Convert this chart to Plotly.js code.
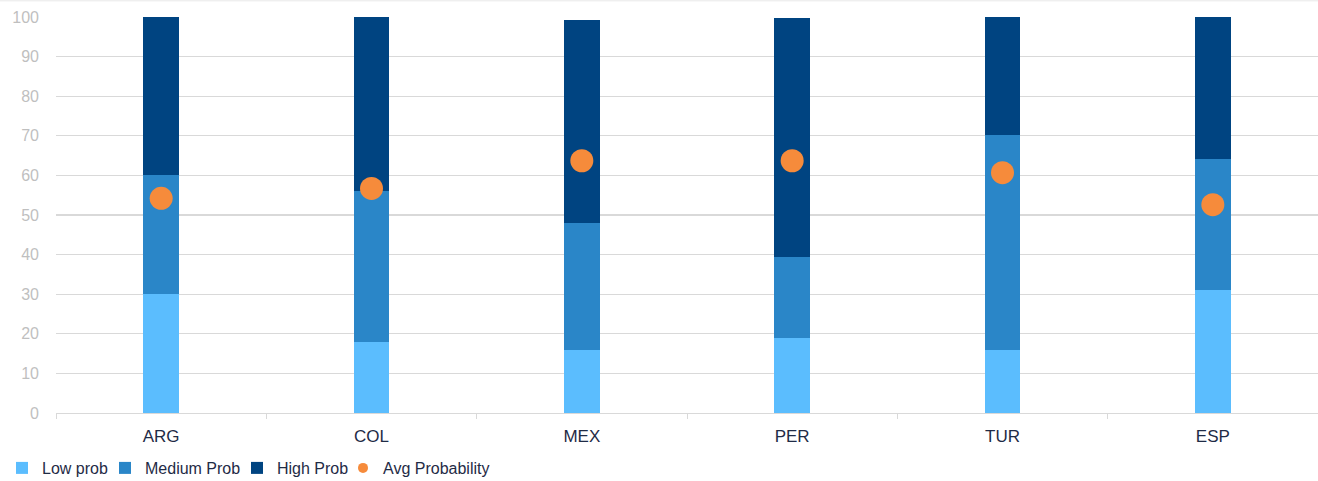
<!DOCTYPE html>
<html>
<head>
<meta charset="utf-8">
<script src="https://cdn.plot.ly/plotly-3.0.1.min.js"></script>
<style>
  html, body { margin: 0; padding: 0; background: #ffffff; }
  #chart { width: 1318px; height: 481px; }
</style>
</head>
<body>
<div id="chart"></div>
<script>
// Countries on the category axis
const countries = ['ARG', 'COL', 'MEX', 'PER', 'TUR', 'ESP'];

// Share of each probability band (stacked, %)
const lowProb    = [30, 18, 16, 19, 16, 31];
const mediumProb = [30, 38, 32, 20.4, 54.2, 33.1];
const highProb   = [40, 44, 51.2, 60.3, 29.8, 35.9];

// Average probability per country (%)
const avgProbability = [54.2, 56.7, 63.7, 63.7, 60.7, 52.6];

const yTicks = [0, 10, 20, 30, 40, 50, 60, 70, 80, 90, 100];

const BAR_WIDTH = 0.17;
const textColor = '#1f2b46';
const avgColor = '#f68b3b';

// Plot area geometry (px)
const W = 1318, H = 481;
const M = { l: 56, r: 0, t: 17, b: 68 };
const plotW = W - M.l - M.r;
const plotH = H - M.t - M.b;

// Each legend entry sits in its own legend box so the row can be spaced tightly
function legendAt(textLeftPx) {
  return {
    orientation: 'h',
    x: (textLeftPx - 40 - M.l) / plotW,
    xanchor: 'left',
    y: -(468 - (H - M.b)) / plotH,
    yanchor: 'middle',
    font: { size: 16, color: textColor, family: 'Liberation Sans, Arial, sans-serif' },
    bgcolor: 'rgba(0,0,0,0)',
    borderwidth: 0
  };
}

const traces = [
  { type: 'bar', name: 'Low prob', x: countries, y: lowProb, legend: 'legend',
    width: BAR_WIDTH, marker: { color: '#5bbdfe' } },
  { type: 'bar', name: 'Medium Prob', x: countries, y: mediumProb, legend: 'legend2',
    width: BAR_WIDTH, marker: { color: '#2a86c8' } },
  { type: 'bar', name: 'High Prob', x: countries, y: highProb, legend: 'legend3',
    width: BAR_WIDTH, marker: { color: '#004481' } },
  { type: 'scatter', mode: 'markers', name: 'Avg Probability', showlegend: false,
    x: countries, y: avgProbability,
    marker: { color: avgColor, size: 23 } },
  // legend key for the average dots, drawn with a smaller symbol
  { type: 'scatter', mode: 'markers', name: 'Avg Probability', legend: 'legend4',
    x: [null], y: [null],
    marker: { color: avgColor, size: 10 } }
];

const layout = {
  width: W,
  height: H,
  margin: Object.assign({ autoexpand: false }, M),
  paper_bgcolor: '#ffffff',
  plot_bgcolor: '#ffffff',
  barmode: 'stack',
  font: { family: 'Liberation Sans, Arial, sans-serif', color: textColor, size: 16 },
  xaxis: {
    type: 'category',
    showgrid: false,
    showline: true,
    linecolor: '#d9d9d9',
    linewidth: 1.3,
    ticks: 'outside',
    tickson: 'boundaries',
    ticklen: 5,
    tickcolor: '#d9d9d9',
    tickfont: { size: 17, color: textColor },
    ticklabelstandoff: 7,
    fixedrange: true
  },
  yaxis: {
    range: [0, 100],
    tickvals: yTicks,
    ticktext: yTicks.map(String),
    showgrid: true,
    gridcolor: '#d9d9d9',
    gridwidth: 1.3,
    zeroline: false,
    showline: false,
    tickfont: { size: 16, color: '#bfbfbf' },
    ticklabelstandoff: 16,
    fixedrange: true
  },
  showlegend: true,
  legend: legendAt(42),
  legend2: legendAt(145),
  legend3: legendAt(277),
  legend4: legendAt(383),
  shapes: [
    // thin frame line along the top edge
    { type: 'line', xref: 'paper', yref: 'paper',
      x0: -M.l / plotW, x1: 1, y0: 1 + (M.t - 0.8) / plotH, y1: 1 + (M.t - 0.8) / plotH,
      line: { color: '#e8e8e8', width: 1 } }
  ]
};

Plotly.newPlot('chart', traces, layout, { displayModeBar: false, staticPlot: true });
</script>
</body>
</html>
